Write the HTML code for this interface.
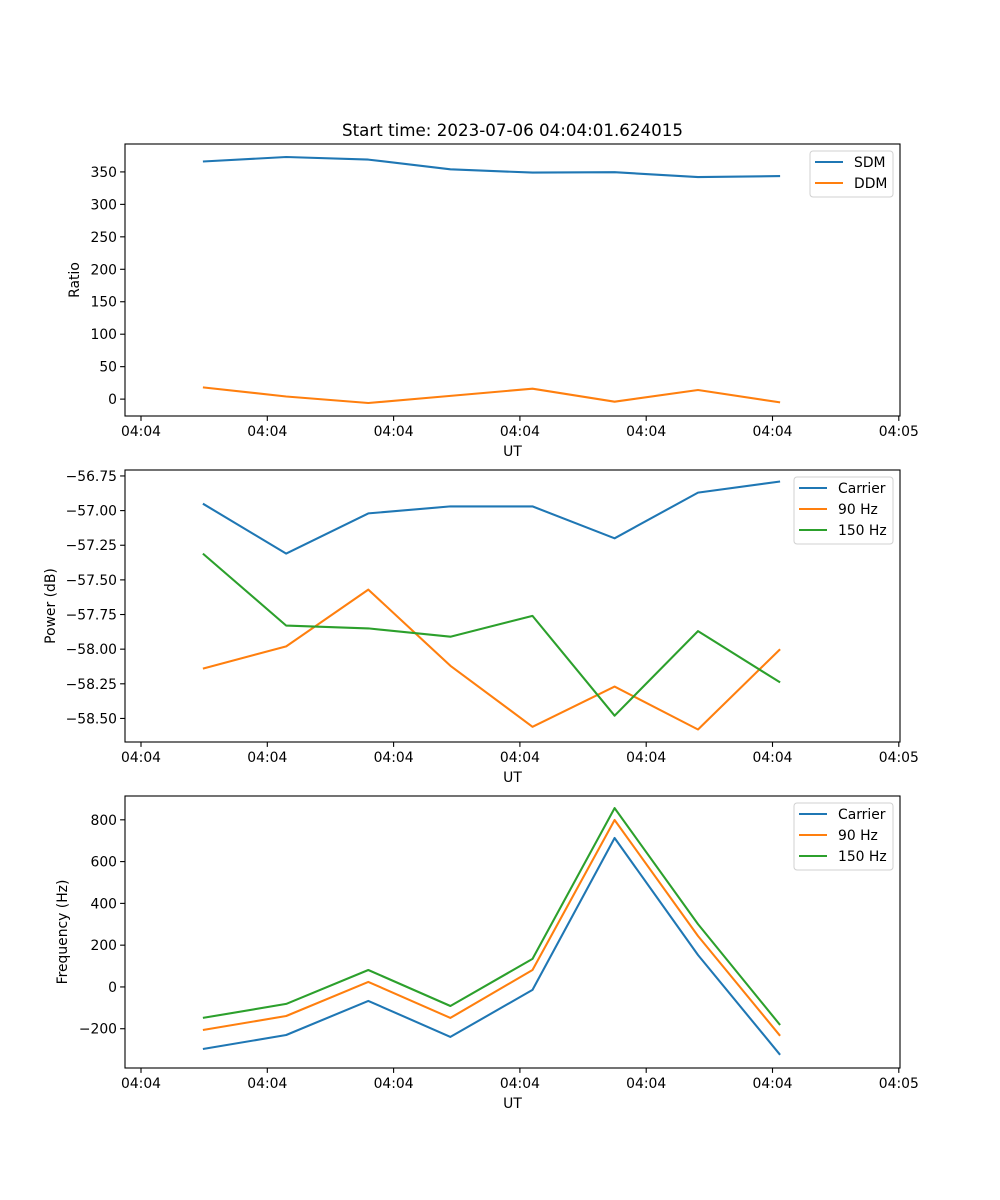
<!DOCTYPE html>
<html><head><meta charset="utf-8"><style>
body{margin:0;background:#fff}
svg{display:block;font-family:"DejaVu Sans","Liberation Sans",sans-serif}
</style></head><body>
<svg id="fig" width="1000" height="1200" viewBox="0 0 1000 1200" xmlns="http://www.w3.org/2000/svg">
<rect width="1000" height="1200" fill="#fff"/>
<text x="512.5" y="136" text-anchor="middle" font-size="16.7">Start time: 2023-07-06 04:04:01.624015</text>
</svg>
<script>
// seconds after 04:04:00
const times = [4.9, 11.5, 18.0, 24.5, 31.0, 37.5, 44.1, 50.6];
const xTickVals = [0, 10, 20, 30, 40, 50, 60];
const xTickLabels = ["04:04","04:04","04:04","04:04","04:04","04:04","04:05"];
const sdm = [366, 373, 369, 354, 349, 349.5, 342, 343.5];
const ddm = [18, 4, -6, 5, 16, -4, 14, -5];
const pCarrier = [-56.95, -57.31, -57.02, -56.97, -56.97, -57.20, -56.87, -56.79];
const p90 = [-58.14, -57.98, -57.57, -58.12, -58.56, -58.27, -58.58, -58.00];
const p150 = [-57.31, -57.83, -57.85, -57.91, -57.76, -58.48, -57.87, -58.24];
const fCarrier = [-297, -230, -67, -239, -14, 713, 153, -325];
const f90 = [-206, -139, 24, -148, 81, 799, 244, -234];
const f150 = [-148, -81, 81, -91, 134, 856, 301, -182];
const ticks1 = [0, 50, 100, 150, 200, 250, 300, 350];
const ticks2 = [-56.75, -57.00, -57.25, -57.50, -57.75, -58.00, -58.25, -58.50];
const ticks3 = [-200, 0, 200, 400, 600, 800];

const NS = "http://www.w3.org/2000/svg";
const svg = document.getElementById("fig");
const C = ["#1f77b4", "#ff7f0e", "#2ca02c"];
const FS = 13.9;
function mk(tag, attrs, parent) {
  const e = document.createElementNS(NS, tag);
  for (const k in attrs) e.setAttribute(k, attrs[k]);
  (parent || svg).appendChild(e);
  return e;
}
const X0 = 125, X1 = 900;
function xs(t) { return 141 + t * 12.63; }

function panel(name, top, ymin, ymax, ticks, fmt, ylabel, series, legend, legendBox) {
  const bot = top + 272;
  const ys = v => bot - (v - ymin) / (ymax - ymin) * 272;
  const g = mk("g", {});
  
  
  series.forEach((s, si) => {
    const pts = times.map((t, i) => xs(t).toFixed(1) + "," + ys(s[i]).toFixed(1)).join(" ");
    const pl = mk("polyline", { points: pts, fill: "none", stroke: C[si], "stroke-width": 2.08, "stroke-linejoin": "round" }, g);
    
    
  });
  const fr = mk("rect", { x: X0, y: top, width: X1 - X0, height: 272, fill: "none", stroke: "#000", "stroke-width": 1.1 }, g);
  
  
  ticks.forEach(v => {
    const y = ys(v);
    mk("line", { x1: X0 - 4.9, x2: X0, y1: y, y2: y, stroke: "#000", "stroke-width": 1.1 }, g);
    const t = mk("text", { x: X0 - 8, y: y + 5, "text-anchor": "end", "font-size": FS }, g);
    
    
    t.textContent = fmt(v);
  });
  xTickVals.forEach((v, i) => {
    const x = xs(v);
    mk("line", { x1: x, x2: x, y1: bot, y2: bot + 4.9, stroke: "#000", "stroke-width": 1.1 }, g);
    const t = mk("text", { x: x, y: bot + 20, "text-anchor": "middle", "font-size": FS }, g);
    
    
    t.textContent = xTickLabels[i];
  });
  const xl = mk("text", { x: 512.5, y: bot + 40, "text-anchor": "middle", "font-size": FS }, g);
  
  
  xl.textContent = "UT";
  const lx = legendBox[0], cy = top + 136;
  const yl = mk("text", { x: lx, y: cy, "text-anchor": "middle", "font-size": FS, transform: `rotate(-90 ${lx} ${cy})` }, g);
  
  
  yl.textContent = ylabel;
  const [_, bx, bw] = legendBox;
  const lg = mk("g", {}, g);
  
  
  mk("rect", { x: bx, y: top + 7, width: bw, height: 4 + legend.length * 21, rx: 3, fill: "#fff", stroke: "#ccc", "stroke-width": 1, opacity: 0.9 }, lg);
  legend.forEach((lbl, i) => {
    const y = top + 18 + i * 21;
    const e = mk("g", {}, lg);
    
    
    mk("line", { x1: bx + 5, x2: bx + 33, y1: y, y2: y, stroke: C[i], "stroke-width": 2.08 }, e);
    const t = mk("text", { x: bx + 44, y: y + 5, "font-size": FS }, e);
    t.textContent = lbl;
  });
}
const minus = s => s.replace("-", "\u2212");
panel("ratio", 144, -26, 393, ticks1, v => minus(String(v)), "Ratio", [sdm, ddm], ["SDM", "DDM"], [79, 810, 83]);
panel("power", 470, -58.67, -56.707, ticks2, v => minus(v.toFixed(2)), "Power (dB)", [pCarrier, p90, p150], ["Carrier", "90 Hz", "150 Hz"], [55, 794, 99]);
panel("frequency", 796, -388, 914, ticks3, v => minus(String(v)), "Frequency (Hz)", [fCarrier, f90, f150], ["Carrier", "90 Hz", "150 Hz"], [67, 794, 99]);
</script>
</body></html>
